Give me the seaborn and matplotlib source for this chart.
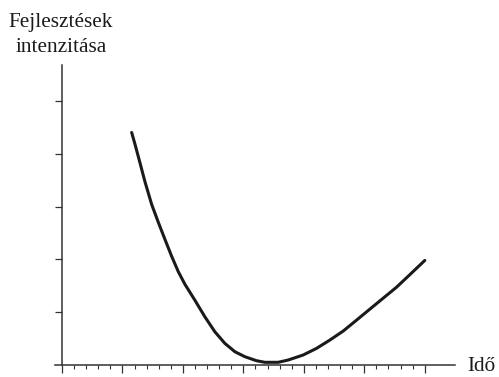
import numpy as np
import pandas as pd
import matplotlib
matplotlib.use("Agg")
import matplotlib.pyplot as plt
import seaborn as sns

# curve (time, intensity)
ido = [1.152, 1.207, 1.289, 1.372, 1.483, 1.592, 1.702, 1.813, 1.922, 2.033,
       2.198, 2.364, 2.529, 2.694, 2.860, 3.025, 3.218, 3.355, 3.575, 3.740,
       3.988, 4.210, 4.430, 4.650, 4.871, 5.091, 5.311, 5.532, 5.724, 5.972, 6.0]
intenzitas = [4.402, 4.180, 3.830, 3.470, 3.040, 2.704, 2.380, 2.060, 1.770, 1.528,
              1.226, 0.911, 0.628, 0.409, 0.251, 0.157, 0.081, 0.051, 0.051, 0.094,
              0.189, 0.315, 0.472, 0.642, 0.849, 1.057, 1.264, 1.472, 1.679, 1.949, 1.98]
y_ticks = [1, 2, 3, 4, 5]
x_major = [0, 1, 2, 3, 4, 5, 6]

df = pd.DataFrame({"ido": ido, "intenzitas": intenzitas})

sns.set_style("white")
plt.rcParams['font.family'] = ['Liberation Serif', 'DejaVu Serif']

fig = plt.figure(figsize=(4.99, 3.77), dpi=100)
ax = fig.add_axes([55/499, 12/377, 400/499, 300/377])

sns.lineplot(data=df, x="ido", y="intenzitas", ax=ax, color="#1a1a1a",
             linewidth=2.2, sort=False)

ax.set_xlim(-0.116, 6.5)
ax.set_ylim(0, 5.68)
for s in ["top", "right"]:
    ax.spines[s].set_visible(False)
ax.spines["left"].set_position(("data", 0))
for s in ["left", "bottom"]:
    ax.spines[s].set_color("#333333")
    ax.spines[s].set_linewidth(1.1)

ax.set_yticks(y_ticks)
ax.set_yticklabels([])
ax.set_xticks(x_major)
ax.set_xticks(np.arange(0, 6.01, 0.2), minor=True)
ax.set_xticklabels([])
ax.tick_params(axis="y", direction="out", length=5, width=0.9, color="#333333", left=True)
ax.tick_params(axis="x", which="major", direction="out", length=5.5, width=0.9,
               color="#333333", bottom=True)
ax.tick_params(axis="x", which="minor", direction="out", length=3.2, width=0.8,
               color="#333333", bottom=True)
ax.set_xlabel("")
ax.set_ylabel("")

fig.text(61/499, 1 - 27/377, "Fejlesztések", ha="center", va="baseline", fontsize=15.3, color="#1a1a1a")
fig.text(61.5/499, 1 - 52/377, "intenzitása", ha="center", va="baseline", fontsize=15.3, color="#1a1a1a")
fig.text(481.5/499, 1 - 371/377, "Idő", ha="center", va="baseline", fontsize=15.3, color="#1a1a1a")

fig.savefig("out.png", dpi=100)
